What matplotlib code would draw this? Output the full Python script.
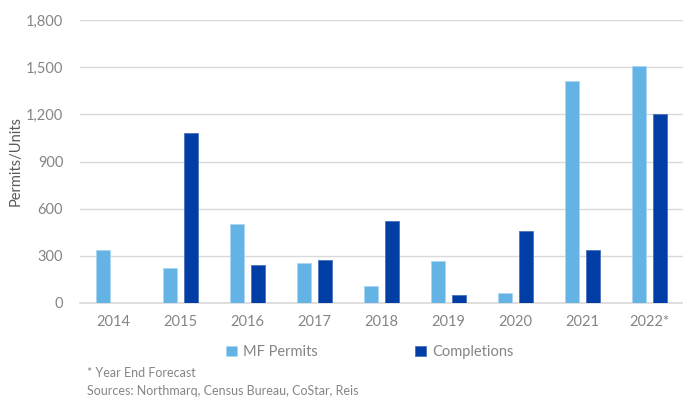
import matplotlib.pyplot as plt
import numpy as np

# Multifamily permits vs. completions by year
years = ['2014', '2015', '2016', '2017', '2018', '2019', '2020', '2021', '2022*']
mf_permits = [335, 225, 505, 255, 105, 265, 65, 1415, 1505]
completions = [0, 1080, 240, 272, 522, 52, 455, 335, 1202]

light_blue = '#63b4e4'
dark_blue = '#003da5'
text_gray = '#858585'
grid_gray = '#d9d9d9'

plt.rcParams['font.family'] = ['Lato', 'DejaVu Sans']

fig = plt.figure(figsize=(6.83, 4.0), dpi=100)
ax = fig.add_axes([0.117, 0.2425, 0.883, 0.7075])

x = np.arange(len(years))
w = 0.22
off = 0.157
ax.bar(x - off, mf_permits, width=w, color=light_blue, edgecolor='#a9d6f2', linewidth=0.6,
       label='MF Permits', zorder=3)
ax.bar(x + off, completions, width=w, color=dark_blue, edgecolor='#4a72bd', linewidth=0.6,
       label='Completions', zorder=3)

ax.set_xlim(-0.5, len(years) - 0.5)
ax.set_ylim(0, 1800)
ax.set_yticks(range(0, 1801, 300))
ax.set_yticklabels([f'{v:,}' for v in range(0, 1801, 300)])
ax.set_xticks(x)
ax.set_xticklabels(years)
ax.tick_params(length=0, colors=text_gray, labelsize=10.5)
ax.tick_params(axis='x', pad=9)
ax.tick_params(axis='y', pad=12)
ax.yaxis.grid(True, color=grid_gray, linewidth=1, zorder=0)
for s in ['top', 'right', 'left']:
    ax.spines[s].set_visible(False)
ax.spines['bottom'].set_color(grid_gray)
ax.spines['bottom'].set_linewidth(1.2)
ax.set_ylabel('Permits/Units', color='#595959', fontsize=10.5)
ax.yaxis.set_label_coords(-0.095, 0.5)

fig.legend(loc='center left', bbox_to_anchor=(0.312, 0.12), ncol=2, frameon=False,
           handlelength=0.75, handleheight=0.75, handletextpad=0.4, columnspacing=6.7,
           fontsize=10.5, labelcolor=text_gray)

fig.text(0.127, 0.058, '* Year End Forecast', color=text_gray, fontsize=9)
fig.text(0.127, 0.012, 'Sources: Northmarq, Census Bureau, CoStar, Reis', color=text_gray, fontsize=9)

fig.savefig('out.png', dpi=100)
